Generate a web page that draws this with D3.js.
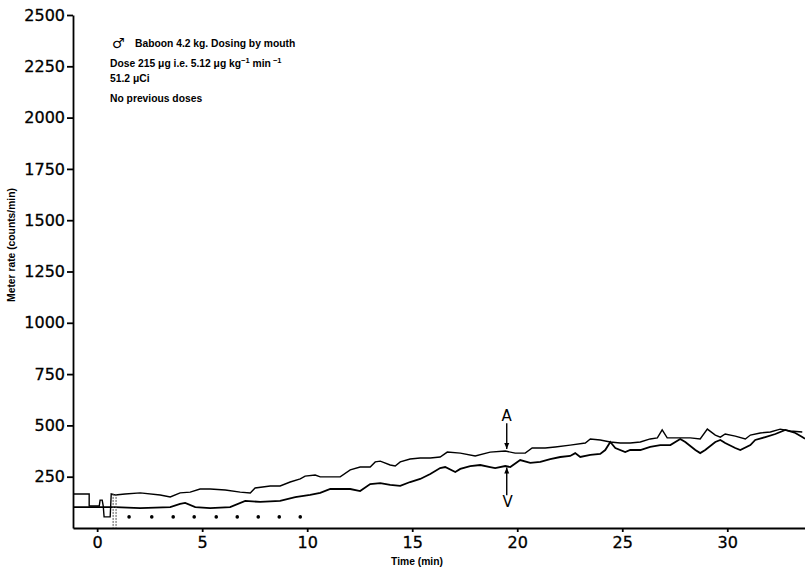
<!DOCTYPE html>
<html>
<head>
<meta charset="utf-8">
<script src="https://cdn.jsdelivr.net/npm/d3@7"></script>
<style>
    body { margin: 0; background: white; }
    svg { display: block; }
    .axis text { font-family: "DejaVu Sans", sans-serif; font-size: 16px; fill: black; stroke: black; stroke-width: 0.3; }
    .axis path, .axis line { stroke: black; stroke-width: 1.8; }
    .note { font-family: "Liberation Sans", Arial, sans-serif; font-size: 10.3px; font-weight: bold; }
</style>
</head>
<body>
<svg></svg>
<script>
// time (min) of the A trace, and its meter rate (counts/min)
var aTime = [-1.14, -0.38, -0.38, 0.10, 0.14, 0.24, 0.29, 0.33, 0.62, 0.67, 0.86, 1.33, 2.05, 3.0, 3.48, 3.95, 4.43, 4.9, 5.38, 6.1,
    6.81, 7.29, 7.52, 8.24, 8.71, 9.19, 9.67, 9.9, 10.38, 10.62, 11.1, 11.57, 12.05, 12.52, 13.0, 13.24, 13.48, 13.95, 14.19, 14.43,
    14.9, 15.38, 15.86, 16.33, 16.67, 17.29, 18.0, 18.71, 19.43, 19.9, 20.38, 20.71, 21.33, 21.81, 22.52, 23.24, 23.48, 23.95, 24.43, 24.9,
    25.38, 25.86, 26.33, 26.67, 26.9, 27.14, 27.76, 28.24, 28.71, 29.05, 29.43, 29.67, 29.9, 30.38, 30.86, 31.1, 31.57, 32.05, 32.52, 33.0, 33.57];
var aRate = [166, 166, 107, 107, 136, 136, 107, 54, 54, 166, 161, 166, 171, 161, 151, 171, 175, 190, 190, 185,
    175, 171, 195, 205, 205, 224, 239, 253, 258, 249, 249, 249, 283, 297, 297, 322, 326, 307, 302, 322,
    336, 341, 341, 346, 370, 365, 351, 370, 375, 365, 365, 390, 390, 395, 404, 414, 434, 429, 419, 414,
    414, 419, 434, 439, 478, 439, 439, 439, 434, 482, 453, 443, 458, 448, 434, 453, 463, 468, 482, 473, 468];

// V trace
var vTime = [-1.14, 0.86, 2.05, 3.48, 3.95, 4.19, 4.67, 5.38, 6.33, 7.05, 7.76, 8.71, 9.43, 10.14, 10.62, 11.1, 12.05, 12.52, 13.0, 13.48,
    13.95, 14.43, 14.9, 15.38, 15.86, 16.33, 16.57, 17.05, 17.29, 17.76, 18.24, 18.71, 18.95, 19.43, 19.67, 20.14, 20.62, 21.1, 21.57, 22.05,
    22.52, 22.76, 23.0, 23.48, 23.95, 24.19, 24.43, 24.67, 25.14, 25.38, 25.86, 26.33, 26.81, 27.29, 27.76, 28.0, 28.48, 28.71, 28.95, 29.43,
    29.67, 29.9, 30.38, 30.62, 31.1, 31.33, 31.81, 32.29, 32.76, 33.24, 33.57, 33.7];
var vRate = [102, 102, 97, 102, 117, 122, 102, 97, 102, 132, 127, 132, 151, 161, 171, 190, 190, 180, 214, 219,
    210, 205, 224, 239, 263, 292, 297, 273, 288, 302, 307, 297, 292, 302, 297, 331, 317, 322, 336, 346,
    351, 365, 346, 356, 361, 380, 419, 390, 370, 380, 380, 395, 404, 404, 434, 419, 380, 365, 380, 419,
    429, 414, 390, 380, 404, 429, 443, 458, 478, 463, 443, 435];

// dots under the traces
var dotTime = [1.52, 2.6, 3.62, 4.62, 5.67, 6.67, 7.67, 8.67, 9.67];
var dotRate = 54;

var doseTime = [0.76, 0.9];
var doseTop = 166;

var arrowTime = 19.5;
var arrowA = [510, 385];
var arrowV = [160, 295];

var xTicks = [0, 5, 10, 15, 20, 25, 30];
var yTicks = [250, 500, 750, 1000, 1250, 1500, 1750, 2000, 2250, 2500];

var screen = {width: 805, height: 568};
var margins = {top: 15, right: 0, bottom: 40, left: 73};

var setup = function()
{
    var svg = d3.select("svg")
        .attr("width", screen.width)
        .attr("height", screen.height);

    var width = screen.width - margins.left - margins.right;
    var height = screen.height - margins.top - margins.bottom;

    var xScale = d3.scaleLinear()
                    .domain([-1.15, 33.7])
                    .range([0, width]);

    var yScale = d3.scaleLinear()
                    .domain([0, 2500])
                    .range([height, 0]);

    var xAxis = d3.axisBottom(xScale).tickValues(xTicks).tickSize(4).tickSizeOuter(0).tickPadding(5);
    var yAxis = d3.axisLeft(yScale).tickValues(yTicks).tickFormat(d3.format("d"))
        .tickSize(6).tickSizeOuter(0).tickPadding(2);

    svg.append("g")
        .attr("class", "axis")
        .attr("transform", "translate(" + margins.left + "," + (margins.top + height) + ")")
        .call(xAxis);

    svg.append("g")
        .attr("class", "axis")
        .attr("transform", "translate(" + margins.left + "," + margins.top + ")")
        .call(yAxis);

    svg.selectAll(".axis text").attr("font-family", null).attr("font-size", null);

    var graph = svg.append("g")
        .attr("id", "graph")
        .attr("transform", "translate(" + margins.left + "," + margins.top + ")");

    draw(graph, xScale, yScale);

    // axis titles
    svg.append("text")
        .attr("class", "note")
        .attr("text-anchor", "middle")
        .attr("transform", "translate(15,245) rotate(-90)")
        .text("Meter rate (counts/min)");

    svg.append("text")
        .attr("class", "note")
        .attr("text-anchor", "middle")
        .attr("x", 417)
        .attr("y", 565)
        .text("Time (min)");

    // annotation
    svg.append("text")
        .attr("x", 112)
        .attr("y", 48)
        .attr("font-family", "DejaVu Sans")
        .attr("font-size", 14)
        .text("\u2642");

    svg.append("text").attr("class", "note").attr("x", 135).attr("y", 47)
        .text("Baboon 4.2 kg. Dosing by mouth");

    var dose = svg.append("text").attr("class", "note").attr("x", 110).attr("y", 67);
    dose.append("tspan").text("Dose 215 \u03bcg i.e. 5.12 \u03bcg kg");
    dose.append("tspan").attr("dy", -4).attr("font-size", 7.5).text("\u22121");
    dose.append("tspan").attr("dy", 4).text("  min");
    dose.append("tspan").attr("dy", -4).attr("font-size", 7.5).text(" \u22121");

    svg.append("text").attr("class", "note").attr("x", 110).attr("y", 82)
        .text("51.2 \u03bcCi");

    svg.append("text").attr("class", "note").attr("x", 110).attr("y", 102)
        .text("No previous doses");
}

var draw = function(graph, xScale, yScale)
{
    var lineGenerator = d3.line()
        .x(function(d){return xScale(d[0])})
        .y(function(d){return yScale(d[1])});

    var aData = aTime.map(function(t, i){return [t, aRate[i]]});
    var vData = vTime.map(function(t, i){return [t, vRate[i]]});

    graph.append("path")
        .datum(aData)
        .attr("fill", "none")
        .attr("stroke", "black")
        .attr("stroke-width", 1.4)
        .attr("d", lineGenerator);

    graph.append("path")
        .datum(vData)
        .attr("fill", "none")
        .attr("stroke", "black")
        .attr("stroke-width", 1.8)
        .attr("d", lineGenerator);

    // dose marker
    graph.selectAll(".dose")
        .data(doseTime)
        .enter()
        .append("line")
        .attr("class", "dose")
        .attr("x1", function(t){return xScale(t)})
        .attr("x2", function(t){return xScale(t)})
        .attr("y1", yScale(doseTop))
        .attr("y2", yScale(0))
        .attr("stroke", "#555")
        .attr("stroke-width", 1)
        .attr("stroke-dasharray", "2,1");

    graph.selectAll("circle")
        .data(dotTime)
        .enter()
        .append("circle")
        .attr("cx", function(t){return xScale(t)})
        .attr("cy", yScale(dotRate))
        .attr("r", 1.8)
        .attr("fill", "black");

    // arrows
    var ax = xScale(arrowTime);
    var arrows = [arrowA, arrowV];
    graph.selectAll(".arrow")
        .data(arrows)
        .enter()
        .append("line")
        .attr("class", "arrow")
        .attr("x1", ax)
        .attr("x2", ax)
        .attr("y1", function(d){return yScale(d[0])})
        .attr("y2", function(d){return yScale(d[1])})
        .attr("stroke", "black")
        .attr("stroke-width", 1.4);

    graph.selectAll(".head")
        .data(arrows)
        .enter()
        .append("path")
        .attr("class", "head")
        .attr("d", function(d)
        {
            var y = yScale(d[1]);
            var dir = d[1] < d[0] ? -1 : 1;
            return "M" + (ax - 2.5) + "," + (y + dir * 6) + "L" + ax + "," + y + "L" + (ax + 2.5) + "," + (y + dir * 6) + "Z";
        })
        .attr("fill", "black");

    graph.append("text")
        .attr("x", ax)
        .attr("y", yScale(arrowA[0]) - 2)
        .attr("text-anchor", "middle")
        .attr("font-family", "DejaVu Sans")
        .attr("font-size", 15)
        .text("A");

    graph.append("text")
        .attr("x", ax + 1)
        .attr("y", yScale(arrowV[0]) + 12)
        .attr("text-anchor", "middle")
        .attr("font-family", "DejaVu Sans")
        .attr("font-size", 15)
        .text("V");
}

setup();
</script>
</body>
</html>
